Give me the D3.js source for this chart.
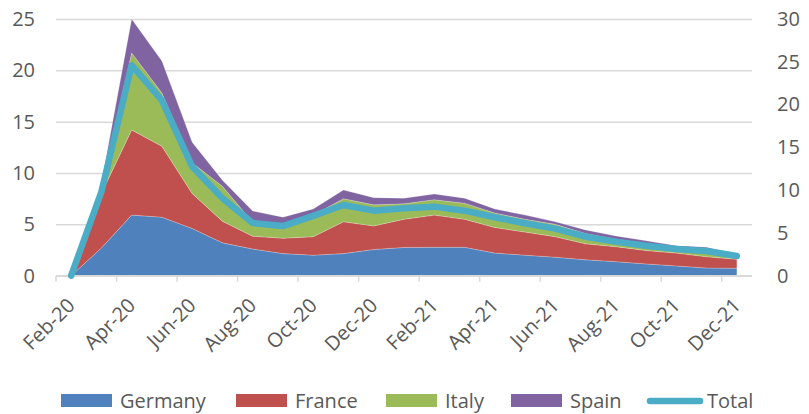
<html>
<head>
<script src="https://cdn.jsdelivr.net/npm/d3@7"></script>
<style>
body { margin: 0; background: #fff; }
text { font-family: "Open Sans", sans-serif; fill: #595959; }
</style>
</head>
<body>
<svg width="809" height="414"></svg>
<script>
// months on the x axis
var months = ["Feb-20","Mar-20","Apr-20","May-20","Jun-20","Jul-20","Aug-20","Sep-20","Oct-20","Nov-20","Dec-20",
  "Jan-21","Feb-21","Mar-21","Apr-21","May-21","Jun-21","Jul-21","Aug-21","Sep-21","Oct-21","Nov-21","Dec-21"];
var germany = [0,2.7,5.9,5.7,4.6,3.2,2.6,2.15,2.0,2.15,2.55,2.75,2.77,2.77,2.2,2.0,1.8,1.55,1.37,1.15,0.95,0.75,0.72];
var france  = [0,5.3,8.3,6.9,3.4,2.1,1.25,1.5,1.8,3.1,2.3,2.75,3.13,2.73,2.5,2.25,2.0,1.55,1.46,1.3,1.25,1.1,0.88];
var italy   = [0,0.5,7.5,5.2,3.0,3.4,1.35,1.25,2.1,2.25,2.05,1.5,1.5,1.55,1.4,1.25,1.2,1.0,0.72,0.65,0.55,0.7,0.45];
var spain   = [0,0.5,3.3,3.1,2.0,0.6,1.1,0.8,0.6,0.85,0.7,0.55,0.55,0.5,0.4,0.4,0.25,0.35,0.32,0.3,0.17,0.22,0.05];
// total is on the right axis
var total   = [0,9.8,24.6,20.5,12.75,9.05,6.15,5.8,7.0,8.27,7.6,7.87,8.07,7.6,6.83,6.13,5.5,4.56,3.98,3.51,3.12,2.89,2.3];
var leftTicks = [0,5,10,15,20,25];
var rightTicks = [0,5,10,15,20,25,30];
var labelMonths = months.filter(function(d,i){ return i % 2 == 0; });

var names = ["Germany","France","Italy","Spain"];
var colors = ["#4f81bd","#c0504d","#9bbb59","#8064a2"];
var totalColor = "#4bacc6";

var plotLeft = 56, plotRight = 752, plotTop = 19, plotBottom = 275.7;
var svg = d3.select("svg");

var x = d3.scalePoint().domain(months).range([plotLeft, plotRight]).padding(0.5);
var yL = d3.scaleLinear().domain([0,25]).range([plotBottom, plotTop]);
var yR = d3.scaleLinear().domain([0,30]).range([plotBottom, plotTop]);

var table = months.map(function(m,i){
  return {month: m, Germany: germany[i], France: france[i], Italy: italy[i], Spain: spain[i]};
});
var series = d3.stack().keys(names)(table);

// gridlines + left labels
var gl = svg.append("g").attr("transform","translate("+plotLeft+",0)")
  .call(d3.axisLeft(yL).tickValues(leftTicks).tickSize(-(plotRight-plotLeft)).tickPadding(21));
gl.select(".domain").remove();
gl.selectAll("line").attr("stroke","#d9d9d9").attr("stroke-width",1.5);
gl.selectAll("text").style("font-size","20px").attr("fill","#595959");

// right labels
var gr = svg.append("g").attr("transform","translate("+plotRight+",0)")
  .call(d3.axisRight(yR).tickValues(rightTicks).tickSize(0).tickPadding(25));
gr.select(".domain").remove();
gr.selectAll("text").style("font-size","20px").attr("fill","#595959");

// areas
var area = d3.area()
  .x(function(d){ return x(d.data.month); })
  .y0(function(d){ return yL(d[0]); })
  .y1(function(d){ return yL(d[1]); });
svg.append("g").selectAll("path").data(series).enter().append("path")
  .attr("d", area)
  .attr("fill", function(d,i){ return colors[i]; })
  .attr("stroke","#fff").attr("stroke-opacity",0.35).attr("stroke-width",0.6);

// x axis line and ticks
var step = x.step();
svg.append("line").attr("x1",plotLeft).attr("x2",plotRight).attr("y1",plotBottom).attr("y2",plotBottom)
  .attr("stroke","#d9d9d9").attr("stroke-width",1.5);
svg.append("g").selectAll("line").data(labelMonths).enter().append("line")
  .attr("x1", function(d){ return x(d) - step/2; })
  .attr("x2", function(d){ return x(d) - step/2; })
  .attr("y1", plotBottom).attr("y2", plotBottom+6)
  .attr("stroke","#d9d9d9").attr("stroke-width",1.5);
svg.append("g").selectAll("text").data(labelMonths).enter().append("text")
  .attr("transform", function(d){ return "translate("+(x(d)+5)+","+(plotBottom+31)+") rotate(-45)"; })
  .attr("text-anchor","end")
  .style("font-size","20px")
  .text(function(d){ return d; });

// total line
var line = d3.line()
  .x(function(d,i){ return x(months[i]); })
  .y(function(d){ return yR(d); });
svg.append("path").datum(total)
  .attr("d", line)
  .attr("fill","none").attr("stroke", totalColor).attr("stroke-width",6.5)
  .attr("stroke-linecap","round").attr("stroke-linejoin","round");

// legend
var legendX = [61, 236, 386, 511];
var lg = svg.append("g");
names.forEach(function(n,i){
  lg.append("rect").attr("x",legendX[i]).attr("y",394).attr("width",51).attr("height",13).attr("fill",colors[i]);
  lg.append("text").attr("x",legendX[i]+59).attr("y",408).style("font-size","20px").text(n);
});
lg.append("line").attr("x1",650).attr("x2",700).attr("y1",401).attr("y2",401)
  .attr("stroke",totalColor).attr("stroke-width",6.5).attr("stroke-linecap","round");
lg.append("text").attr("x",707).attr("y",408).style("font-size","20px").text("Total");
</script>
</body>
</html>
